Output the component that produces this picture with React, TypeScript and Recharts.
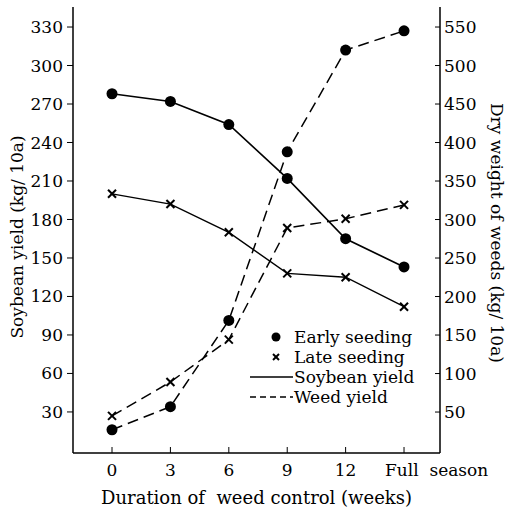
import { LineChart, Line, XAxis, YAxis } from 'recharts';

const weeks = ['0', '3', '6', '9', '12', 'Full  season'];
const earlySoybean = [278, 272, 254, 212, 165, 143];
const lateSoybean = [200, 192, 170, 138, 135, 112];
const earlyWeed = [27, 57, 169, 388, 520, 545];
const lateWeed = [45, 89, 144, 289, 301, 319];
const leftTicks = [30, 60, 90, 120, 150, 180, 210, 240, 270, 300, 330];
const rightTicks = [50, 100, 150, 200, 250, 300, 350, 400, 450, 500, 550];

const data = weeks.map((w, i) => ({
  x: i,
  label: w,
  earlySoybean: earlySoybean[i],
  lateSoybean: lateSoybean[i],
  earlyWeed: earlyWeed[i],
  lateWeed: lateWeed[i],
}));

const FONT = '"DejaVu Serif", "Liberation Serif", serif';
const FS = 17;

function Dot(props: any) {
  const { cx, cy } = props;
  if (cx == null || cy == null) return null;
  return <circle cx={cx} cy={cy} r={5.5} fill="#000" />;
}

function Cross(props: any) {
  const { cx, cy } = props;
  if (cx == null || cy == null) return null;
  const s = 4;
  return (
    <g stroke="#000" strokeWidth={2}>
      <line x1={cx - s} y1={cy - s} x2={cx + s} y2={cy + s} />
      <line x1={cx - s} y1={cy + s} x2={cx + s} y2={cy - s} />
    </g>
  );
}

function XTick(props: any) {
  const { x, y, payload } = props;
  const last = payload.value === weeks.length - 1;
  return (
    <text
      x={last ? x - 19 : x}
      y={y + 27}
      textAnchor={last ? 'start' : 'middle'}
      fontFamily={FONT}
      fontSize={FS}
      fill="#000"
    >
      {last ? 'Full\u00a0\u00a0season' : weeks[payload.value]}
    </text>
  );
}

function LegendBox() {
  const row = { display: 'flex', alignItems: 'center', height: 20 };
  const txt = { fontFamily: FONT, fontSize: FS, color: '#000', marginLeft: 1, lineHeight: '20px' };
  return (
    <div style={{ position: 'absolute', left: 250, top: 327, width: 190 }}>
      <div style={row}>
        <svg width={43} height={20}>
          <circle cx={26} cy={10} r={4.5} fill="#000" />
        </svg>
        <span style={txt}>Early seeding</span>
      </div>
      <div style={row}>
        <svg width={43} height={20}>
          <g stroke="#000" strokeWidth={2}>
            <line x1={23} y1={7} x2={29} y2={13} />
            <line x1={23} y1={13} x2={29} y2={7} />
          </g>
        </svg>
        <span style={txt}>Late seeding</span>
      </div>
      <div style={row}>
        <svg width={43} height={20}>
          <line x1={0} y1={10} x2={43} y2={10} stroke="#000" strokeWidth={1.3} />
        </svg>
        <span style={txt}>Soybean yield</span>
      </div>
      <div style={row}>
        <svg width={43} height={20}>
          <line x1={0} y1={10} x2={43} y2={10} stroke="#000" strokeWidth={1.3} strokeDasharray="6 4" />
        </svg>
        <span style={txt}>Weed yield</span>
      </div>
    </div>
  );
}

export default function App() {
  const tickStyle = { fill: '#000', fontSize: FS, fontFamily: FONT };
  return (
    <div style={{ position: 'absolute', left: 0, top: 0, width: 508, height: 509, background: '#fff' }}>
      <LineChart width={508} height={509} data={data} margin={{ top: 7, right: 0, bottom: 0, left: 0 }}>
        <XAxis
          xAxisId="top"
          orientation="top"
          dataKey="x"
          type="number"
          domain={[-0.668, 5.616]}
          height={0}
          tick={false}
          tickLine={false}
          axisLine={{ stroke: '#000', strokeWidth: 1.5 }}
        />
        <XAxis
          dataKey="x"
          type="number"
          domain={[-0.668, 5.616]}
          ticks={[0, 1, 2, 3, 4, 5]}
          height={56}
          tick={<XTick />}
          tickSize={-6}
          tickLine={{ stroke: '#000' }}
          axisLine={{ stroke: '#000', strokeWidth: 1.5 }}
          label={{
            value: 'Duration of\u00a0\u00a0weed control (weeks)',
            position: 'insideBottom',
            offset: 5,
            style: { fill: '#000', fontSize: 18, fontFamily: FONT },
          }}
        />
        <YAxis
          yAxisId="left"
          width={73}
          domain={[-2, 345.6]}
          ticks={leftTicks}
          tick={tickStyle}
          tickSize={6}
          tickMargin={4}
          tickLine={{ stroke: '#000' }}
          axisLine={{ stroke: '#000', strokeWidth: 1.5 }}
          label={{
            value: 'Soybean yield (kg/ 10a)',
            content: (p: any) => {
              const vb = p.viewBox;
              const cx = 17;
              const cy = vb.y + vb.height / 2 + 7;
              return (
                <text
                  x={cx}
                  y={cy}
                  transform={`rotate(-90 ${cx} ${cy})`}
                  textAnchor="middle"
                  dominantBaseline="central"
                  fontFamily={FONT}
                  fontSize={FS}
                  fill="#000"
                >
                  Soybean yield (kg/ 10a)
                </text>
              );
            },
          }}
        />
        <YAxis
          yAxisId="right"
          orientation="right"
          width={68}
          domain={[-3.2, 576]}
          ticks={rightTicks}
          tick={{ ...tickStyle, textAnchor: 'start' }}
          tickSize={-5}
          tickMargin={9}
          tickLine={{ stroke: '#000' }}
          axisLine={{ stroke: '#000', strokeWidth: 1.5 }}
          label={{
            value: 'Dry weight of weeds (kg/ 10a)',
            content: (p: any) => {
              const vb = p.viewBox;
              const cx = 497;
              const cy = vb.y + vb.height / 2 + 3;
              return (
                <text
                  x={cx}
                  y={cy}
                  transform={`rotate(90 ${cx} ${cy})`}
                  textAnchor="middle"
                  dominantBaseline="central"
                  fontFamily={FONT}
                  fontSize={FS}
                  fill="#000"
                >
                  Dry weight of weeds (kg/ 10a)
                </text>
              );
            },
          }}
        />
        <Line
          yAxisId="left"
          dataKey="earlySoybean"
          stroke="#000"
          strokeWidth={1.6}
          dot={<Dot />}
          isAnimationActive={false}
        />
        <Line
          yAxisId="left"
          dataKey="lateSoybean"
          stroke="#000"
          strokeWidth={1.4}
          dot={<Cross />}
          isAnimationActive={false}
        />
        <Line
          yAxisId="right"
          dataKey="earlyWeed"
          stroke="#000"
          strokeWidth={1.5}
          strokeDasharray="11 6"
          dot={<Dot />}
          isAnimationActive={false}
        />
        <Line
          yAxisId="right"
          dataKey="lateWeed"
          stroke="#000"
          strokeWidth={1.5}
          strokeDasharray="11 6"
          dot={<Cross />}
          isAnimationActive={false}
        />
      </LineChart>
      <LegendBox />
    </div>
  );
}
